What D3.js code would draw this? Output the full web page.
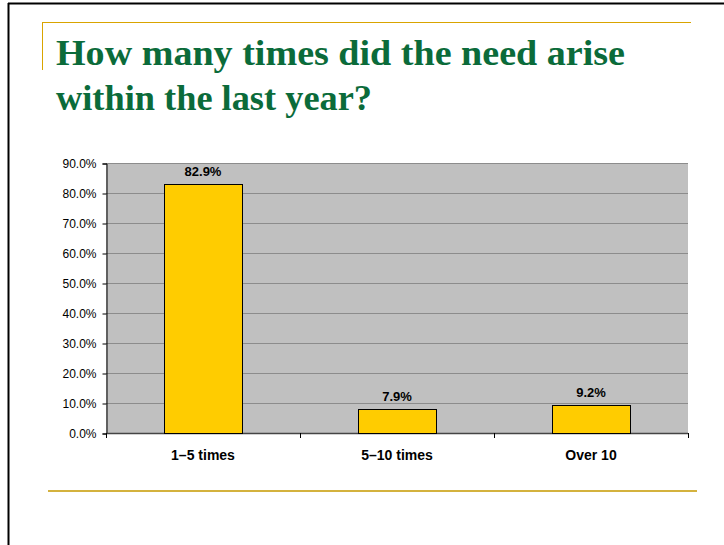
<!DOCTYPE html>
<html>
<head>
<meta charset="utf-8">
<script src="https://d3js.org/d3.v7.min.js"></script>
<style>
body { margin: 0; background: #fff; }
svg { display: block; }
</style>
</head>
<body>
<script>
var categories = ["1\u20135 times", "5\u201310 times", "Over 10"];
var values = [82.9, 7.9, 9.2];
var yTicks = [0, 10, 20, 30, 40, 50, 60, 70, 80, 90];
var titleLines = ["How many times did the need arise", "within the last year?"];

var W = 724, H = 545;
var plot = {left: 106, right: 688, top: 163, bottom: 433};
var titleFit = [569, 316]; // line widths in px, to mimic the wider Garamond face

var svg = d3.select("body").append("svg")
    .attr("width", W)
    .attr("height", H);

// slide frame
svg.append("line")
    .attr("x1", 8).attr("y1", 3.5).attr("x2", W).attr("y2", 3.5)
    .attr("stroke", "#000").attr("stroke-width", 2);
svg.append("line")
    .attr("x1", 8.5).attr("y1", 3).attr("x2", 8.5).attr("y2", H)
    .attr("stroke", "#000").attr("stroke-width", 2);

// gold rules
svg.append("line")
    .attr("x1", 42).attr("y1", 22.5).attr("x2", 691).attr("y2", 22.5)
    .attr("stroke", "#d9a400").attr("stroke-width", 1);
svg.append("line")
    .attr("x1", 42.5).attr("y1", 22).attr("x2", 42.5).attr("y2", 70)
    .attr("stroke", "#d9a400").attr("stroke-width", 1);
svg.append("line")
    .attr("x1", 48).attr("y1", 491).attr("x2", 697).attr("y2", 491)
    .attr("stroke", "#d4b23e").attr("stroke-width", 2);

// title
svg.selectAll(".title")
    .data(titleLines)
    .enter().append("text")
    .attr("class", "title")
    .attr("x", 56)
    .attr("y", function (d, i) { return 65 + i * 45; })
    .attr("font-family", "Liberation Serif, Times New Roman, serif")
    .attr("font-weight", "bold")
    .attr("font-size", 36)
    .attr("fill", "#0b6b3a")
    .attr("textLength", function (d, i) { return titleFit[i]; })
    .attr("lengthAdjust", "spacingAndGlyphs")
    .text(function (d) { return d; });

// scales
var x = d3.scaleBand()
    .domain(categories)
    .range([plot.left, plot.right])
    .paddingInner(0.6)
    .paddingOuter(0.3);

var xEdge = d3.scaleLinear()
    .domain([0, categories.length])
    .range([plot.left, plot.right]);

var y = d3.scaleLinear()
    .domain([0, 90])
    .range([plot.bottom, plot.top]);

// plot background
svg.append("rect")
    .attr("x", plot.left).attr("y", plot.top)
    .attr("width", plot.right - plot.left)
    .attr("height", plot.bottom - plot.top)
    .attr("fill", "#c0c0c0");

// gridlines
svg.selectAll(".grid")
    .data(yTicks.filter(function (d) { return d > 0; }))
    .enter().append("line")
    .attr("class", "grid")
    .attr("x1", plot.left).attr("x2", plot.right)
    .attr("y1", function (d) { return Math.round(y(d)) + 0.5; })
    .attr("y2", function (d) { return Math.round(y(d)) + 0.5; })
    .attr("stroke", "#8c8c8c").attr("stroke-width", 1);

// y axis
var yAxis = svg.append("g")
    .attr("transform", "translate(" + (plot.left + 0.5) + ",0.5)")
    .call(d3.axisLeft(y)
        .tickValues(yTicks)
        .tickSize(4)
        .tickPadding(6)
        .tickFormat(function (d) { return d.toFixed(1) + "%"; }));
yAxis.select(".domain").attr("stroke", "#000");
yAxis.selectAll(".tick line").attr("stroke", "#000");
yAxis.selectAll("text")
    .attr("font-family", "Liberation Sans, Arial, sans-serif")
    .attr("font-size", 12)
    .attr("fill", "#000");

// x axis baseline and category ticks
svg.append("line")
    .attr("x1", plot.left).attr("x2", plot.right)
    .attr("y1", plot.bottom + 0.5).attr("y2", plot.bottom + 0.5)
    .attr("stroke", "#444").attr("stroke-width", 1.5);
svg.selectAll(".xtick")
    .data(d3.range(categories.length + 1))
    .enter().append("line")
    .attr("class", "xtick")
    .attr("x1", function (d) { return Math.round(xEdge(d)) + 0.5; })
    .attr("x2", function (d) { return Math.round(xEdge(d)) + 0.5; })
    .attr("y1", plot.bottom).attr("y2", plot.bottom + 5)
    .attr("stroke", "#000");

// bars
svg.selectAll(".bar")
    .data(values)
    .enter().append("rect")
    .attr("class", "bar")
    .attr("x", function (d, i) { return Math.round(x(categories[i])) + 0.5; })
    .attr("y", function (d) { return Math.round(y(d)) + 0.5; })
    .attr("width", Math.round(x.bandwidth()))
    .attr("height", function (d) { return Math.round(y(0)) - Math.round(y(d)); })
    .attr("fill", "#ffcc00")
    .attr("stroke", "#000")
    .attr("stroke-width", 1);

// value labels
svg.selectAll(".vlabel")
    .data(values)
    .enter().append("text")
    .attr("class", "vlabel")
    .attr("x", function (d, i) { return x(categories[i]) + x.bandwidth() / 2; })
    .attr("y", function (d) { return y(d) - 8; })
    .attr("text-anchor", "middle")
    .attr("font-family", "Liberation Sans, Arial, sans-serif")
    .attr("font-weight", "bold")
    .attr("font-size", 13)
    .attr("fill", "#000")
    .text(function (d) { return d.toFixed(1) + "%"; });

// category labels
svg.selectAll(".clabel")
    .data(categories)
    .enter().append("text")
    .attr("class", "clabel")
    .attr("x", function (d) { return x(d) + x.bandwidth() / 2; })
    .attr("y", 460)
    .attr("text-anchor", "middle")
    .attr("font-family", "Liberation Sans, Arial, sans-serif")
    .attr("font-weight", "bold")
    .attr("font-size", 14)
    .attr("fill", "#000")
    .text(function (d) { return d; });
</script>
</body>
</html>
